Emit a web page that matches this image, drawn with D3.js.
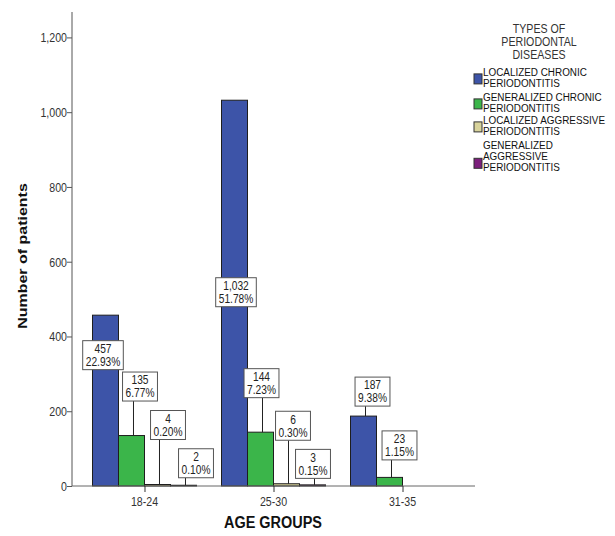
<!DOCTYPE html>
<html><head><meta charset="utf-8">
<script src="https://cdn.jsdelivr.net/npm/d3@7"></script>
<style>body{margin:0;background:#fff}svg{display:block}</style></head>
<body>
<svg id="chart" width="615" height="536"></svg>
<script>
// ---------------- DATA ----------------
const ageGroups = ["18-24", "25-30", "31-35"];
const seriesNames = [
  "LOCALIZED CHRONIC PERIODONTITIS",
  "GENERALIZED CHRONIC PERIODONTITIS",
  "LOCALIZED AGGRESSIVE PERIODONTITIS",
  "GENERALIZED AGGRESSIVE PERIODONTITIS"
];
const legendLines = [
  ["LOCALIZED CHRONIC", "PERIODONTITIS"],
  ["GENERALIZED CHRONIC", "PERIODONTITIS"],
  ["LOCALIZED AGGRESSIVE", "PERIODONTITIS"],
  ["GENERALIZED", "AGGRESSIVE", "PERIODONTITIS"]
];
const localizedChronic      = [457, 1032, 187];
const generalizedChronic    = [135, 144, 23];
const localizedAggressive   = [4, 6, 0];
const generalizedAggressive = [2, 3, 0];
const pctLocalizedChronic      = ["22.93%", "51.78%", "9.38%"];
const pctGeneralizedChronic    = ["6.77%", "7.23%", "1.15%"];
const pctLocalizedAggressive   = ["0.20%", "0.30%", ""];
const pctGeneralizedAggressive = ["0.10%", "0.15%", ""];
const yTickValues = [0, 200, 400, 600, 800, 1000, 1200];
const legendTitle = ["TYPES OF", "PERIODONTAL", "DISEASES"];
const yTitle = "Number of patients";
const xTitle = "AGE GROUPS";

// ---------------- LAYOUT / STYLE ----------------
const colors = ["#3d54a8", "#3bb54a", "#d8d39b", "#7c1f7c"];
// label box center offset from bar-top center [dx, dy]
const labelOffsets = [
  [[-2.5, 40], [1.5, 192], [9, -24.5]],
  [[8.5, -49], [1, -49], [10, -32]],
  [[10.5, -59.5], [6.5, -58], [0, 0]],
  [[12.5, -22], [0.5, -21], [0, 0]]
];
const SX = 0.85; // horizontal text compression of the reference

const values = [localizedChronic, generalizedChronic, localizedAggressive, generalizedAggressive];
const pcts = [pctLocalizedChronic, pctGeneralizedChronic, pctLocalizedAggressive, pctGeneralizedAggressive];
const FONT = "Arial, 'Liberation Sans', sans-serif";

const svg = d3.select("#chart");

const x = d3.scalePoint().domain(ageGroups).range([72, 475]).padding(0.562);
const inner = d3.scaleBand().domain(d3.range(seriesNames.length)).range([-52, 52]).padding(0);
const y = d3.scaleLinear().domain([0, 1268]).range([486, 12]);

function ctext(sel, tx, ty, str, o = {}) {
  const g = sel.append("g").attr("transform",
    `translate(${tx},${ty}) scale(${o.sx || SX},1)` + (o.rotate ? ` rotate(${o.rotate})` : ""));
  return g.append("text")
    .attr("x", 0).attr("y", 0)
    .attr("text-anchor", o.anchor || "middle")
    .attr("dominant-baseline", "central")
    .attr("font-family", FONT)
    .attr("font-size", o.size || 12)
    .attr("font-weight", o.weight || "normal")
    .attr("fill", o.fill || "#222")
    .text(str);
}

// ---- bars ----
const bars = [];
values.forEach((arr, s) => arr.forEach((v, g) => {
  if (v > 0) bars.push({ s, g, v, pct: pcts[s][g] });
}));

svg.append("g").selectAll("rect").data(bars).join("rect")
  .attr("x", d => x(ageGroups[d.g]) + inner(d.s))
  .attr("width", inner.bandwidth())
  .attr("y", d => y(d.v))
  .attr("height", d => y(0) - y(d.v))
  .attr("fill", d => colors[d.s])
  .attr("stroke", "#1e1e1e")
  .attr("stroke-width", 1);

// ---- axes ----
const yAxis = svg.append("g").attr("transform", "translate(72,0)")
  .call(d3.axisLeft(y).tickValues(yTickValues).tickFormat(d3.format(",")).tickSize(5).tickSizeOuter(0));
yAxis.select(".domain").attr("d", `M0,${y(0)}V12`).attr("stroke", "#555");
yAxis.selectAll(".tick line").attr("stroke", "#555");
yAxis.selectAll(".tick text").remove();
yTickValues.forEach(v => ctext(svg, 67, y(v), d3.format(",")(v), { anchor: "end", size: 12.5, fill: "#333" }));

const xAxis = svg.append("g").attr("transform", `translate(0,${y(0)})`)
  .call(d3.axisBottom(x).tickSize(6).tickSizeOuter(0));
xAxis.select(".domain").attr("d", "M72,0H475").attr("stroke", "#666");
xAxis.selectAll(".tick line").attr("stroke", "#333");
xAxis.selectAll(".tick text").remove();
ageGroups.forEach(g => ctext(svg, x(g), 501, g, { size: 12.5, fill: "#333" }));

// ---- axis titles ----
ctext(svg, 22, 256, yTitle, { size: 16, weight: "bold", rotate: -90, fill: "#111" });
ctext(svg, 273, 522, xTitle, { size: 17, weight: "bold", fill: "#111" });

// ---- value labels ----
const lab = svg.append("g");
bars.forEach(d => {
  const bx = x(ageGroups[d.g]) + inner(d.s) + inner.bandwidth() / 2;
  const by = y(d.v);
  const [dx, dy] = labelOffsets[d.s][d.g];
  const cx = bx + dx, cy = by + dy;
  const lines = [d3.format(",")(d.v), d.pct];
  const tmp = svg.append("text").attr("font-family", FONT).attr("font-size", 12);
  const w = d3.max(lines, l => { tmp.text(l); return tmp.node().getComputedTextLength(); }) * SX + 6;
  tmp.remove();
  const h = 29;
  const boxBottom = cy + h / 2;
  if (boxBottom < by) {
    const lx = Math.max(cx - w / 2 + 5, Math.min(cx + w / 2 - 5, bx + 2));
    lab.append("line").attr("x1", bx + 2).attr("y1", by).attr("x2", lx).attr("y2", boxBottom)
      .attr("stroke", "#222").attr("stroke-width", 1);
  }
  lab.append("rect").attr("x", cx - w / 2).attr("y", cy - h / 2).attr("width", w).attr("height", h)
    .attr("fill", "#fff").attr("stroke", "#555").attr("stroke-width", 1);
  ctext(lab, cx, cy - 6.5, lines[0], { size: 12, fill: "#222" });
  ctext(lab, cx, cy + 6.5, lines[1], { size: 12, fill: "#222" });
});

// ---- legend ----
const leg = svg.append("g");
legendTitle.forEach((t, i) => ctext(leg, 539, 28 + i * 13, t, { size: 12.5, fill: "#333", sx: 0.85 }));
const entryTop = [72, 97, 120, 145];
legendLines.forEach((lines, s) => {
  lines.forEach((l, j) => ctext(leg, 483, entryTop[s] + j * 11.4, l, { size: 11, anchor: "start", fill: "#111", sx: 0.9 }));
  const last = entryTop[s] + (lines.length - 1) * 11.4;
  leg.append("rect").attr("x", 474).attr("y", last - 9.5).attr("width", 8).attr("height", 10)
    .attr("fill", colors[s]).attr("stroke", "#333").attr("stroke-width", 1);
});
</script>
</body></html>
